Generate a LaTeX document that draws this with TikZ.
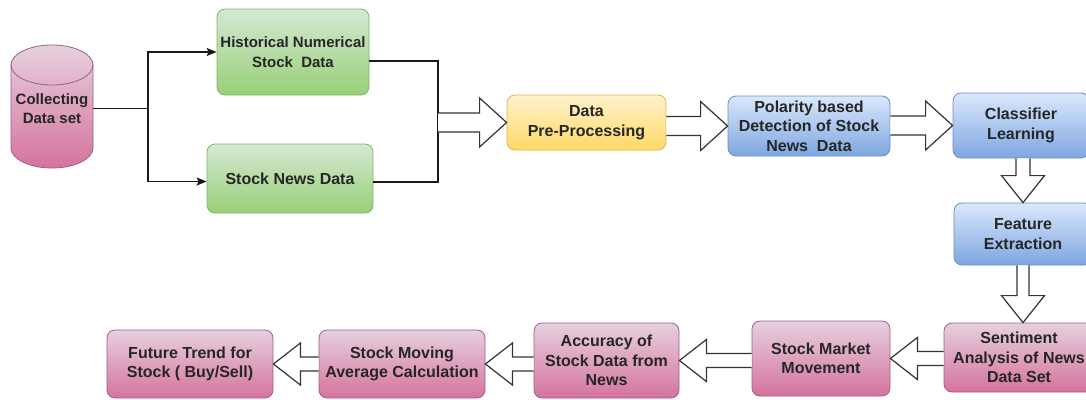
\documentclass[tikz,border=0pt]{standalone}
\usepackage{fontspec}
\setmainfont{Liberation Sans}
\usetikzlibrary{arrows.meta,calc}

\definecolor{textgray}{HTML}{262626}
\definecolor{greentop}{HTML}{D5E8D4}
\definecolor{greenbot}{HTML}{97D077}
\definecolor{greenline}{HTML}{82B366}
\definecolor{yellowtop}{HTML}{FFF2CC}
\definecolor{yellowbot}{HTML}{FFD966}
\definecolor{yellowline}{HTML}{D6B656}
\definecolor{bluetop}{HTML}{DAE8FC}
\definecolor{bluebot}{HTML}{7EA6E0}
\definecolor{blueline}{HTML}{6C8EBF}
\definecolor{pinktop}{HTML}{E6D0DE}
\definecolor{pinkbot}{HTML}{D5739D}
\definecolor{pinkline}{HTML}{996185}

\tikzset{
	box/.style={rectangle, rounded corners=8pt, line width=0.8pt, align=center, text=textgray,
		font=\bfseries\fontsize{16}{19.5}\selectfont, inner sep=2pt},
	greenbox/.style={box, draw=greenline, top color=greentop, bottom color=greenbot},
	yellowbox/.style={box, draw=yellowline, top color=yellowtop, bottom color=yellowbot},
	bluebox/.style={box, draw=blueline, top color=bluetop, bottom color=bluebot},
	pinkbox/.style={box, draw=pinkline, top color=pinktop, bottom color=pinkbot},
	link/.style={line width=1.4pt, black!90},
	blockarrow/.style={fill=white, draw=black!80, line width=1.2pt, line join=miter},
}

% #1 shaft half width, #2 head half width, #3 tail, #4 tip
\newcommand{\flexarrow}[4]{
	\path (#3) coordinate (fa-tail) (#4) coordinate (fa-tip);
	\path ($(fa-tip)!27pt!(fa-tail)$) coordinate (fa-base);
	\filldraw[blockarrow] ($(fa-tail)!#1!90:(fa-tip)$) -- ($(fa-base)!#1!90:(fa-tip)$)
		-- ($(fa-base)!#2!90:(fa-tip)$) -- (fa-tip) -- ($(fa-base)!#2!-90:(fa-tip)$)
		-- ($(fa-base)!#1!-90:(fa-tip)$) -- ($(fa-tail)!#1!-90:(fa-tip)$);
}

\begin{document}
\begin{tikzpicture}[x=1pt, y=-1pt]
	\useasboundingbox (0,0) rectangle (1086,399);

	\shadedraw[top color=pinktop, bottom color=pinkbot, draw=pinkline, line width=0.8pt]
		(11,65) arc[start angle=180, end angle=0, x radius=41pt, y radius=20pt]
		-- (93,148) arc[start angle=0, end angle=-180, x radius=41pt, y radius=20pt] -- cycle;
	\draw[pinkline, line width=0.8pt] (11,65) arc[start angle=180, end angle=360, x radius=41pt, y radius=20pt];
	\node[text=textgray, font=\bfseries\fontsize{15}{19}\selectfont, align=center,
		minimum width=82pt, minimum height=120pt, inner sep=0pt] (src) at (52,108.5) {Collecting\\Data set};

	\node[greenbox, minimum width=152pt, minimum height=86pt, font=\bfseries\fontsize{15}{19.5}\selectfont]
		(hist) at (293,52) {Historical Numerical\\Stock~ Data};
	\node[greenbox, minimum width=166pt, minimum height=69pt] (news) at (290,178.5) {Stock News Data};

	\node[yellowbox, minimum width=159pt, minimum height=55pt] (pre) at (586.5,122.5) {Data\\Pre-Processing};
	\node[bluebox, minimum width=162pt, minimum height=60pt] (pol) at (809,126) {Polarity based\\Detection of Stock\\News~ Data};
	\node[bluebox, minimum width=136pt, minimum height=65pt] (cls) at (1021,125.5) {Classifier\\Learning};
	\node[bluebox, minimum width=138pt, minimum height=62pt] (feat) at (1023,234) {Feature\\Extraction};

	\node[pinkbox, minimum width=150pt, minimum height=69pt] (sent) at (1019,357.5) {Sentiment\\Analysis of News\\Data Set};
	\node[pinkbox, minimum width=138pt, minimum height=75pt] (mkt) at (821,358.5) {Stock Market\\Movement};
	\node[pinkbox, minimum width=145pt, minimum height=75pt] (acc) at (606.5,360.5) {Accuracy of\\Stock Data from\\News};
	\node[pinkbox, minimum width=166pt, minimum height=68pt] (mov) at (402,364) {Stock Moving\\Average Calculation};
	\node[pinkbox, minimum width=166pt, minimum height=68pt] (fut) at (190,364) {Future Trend for\\Stock ( Buy/Sell)};

	\coordinate (split) at (148,108.5);
	\coordinate (bus) at (438,122);

	\draw[link] (src.east) -- (split);
	\draw[link, -{Stealth[length=10pt, width=8pt, inset=2pt]}] (split) |- (hist.west);
	\draw[link, -{Stealth[length=10pt, width=8pt, inset=2pt]}] (split) |- ([yshift=-3pt]news.west);
	\draw[link] ([yshift=-9pt]hist.east) -| (bus);
	\draw[link] ([yshift=-3.5pt]news.east) -| (bus);

	\flexarrow{9.5pt}{24.5pt}{bus |- pre.west}{pre.west}
	\flexarrow{9.5pt}{24.5pt}{pre.east |- pol.west}{pol.west}
	\flexarrow{9.5pt}{24.5pt}{pol.east |- cls.west}{cls.west}
	\flexarrow{7pt}{21.5pt}{feat.north |- cls.south}{feat.north}
	\flexarrow{6pt}{21.5pt}{feat.south}{feat.south |- sent.north}
	\flexarrow{7pt}{21pt}{sent.west |- mkt.east}{mkt.east}
	\flexarrow{7pt}{21pt}{mkt.west |- acc.east}{acc.east}
	\flexarrow{7pt}{21pt}{acc.west |- mov.east}{mov.east}
	\flexarrow{7pt}{21pt}{mov.west}{fut.east}
\end{tikzpicture}
\end{document}
